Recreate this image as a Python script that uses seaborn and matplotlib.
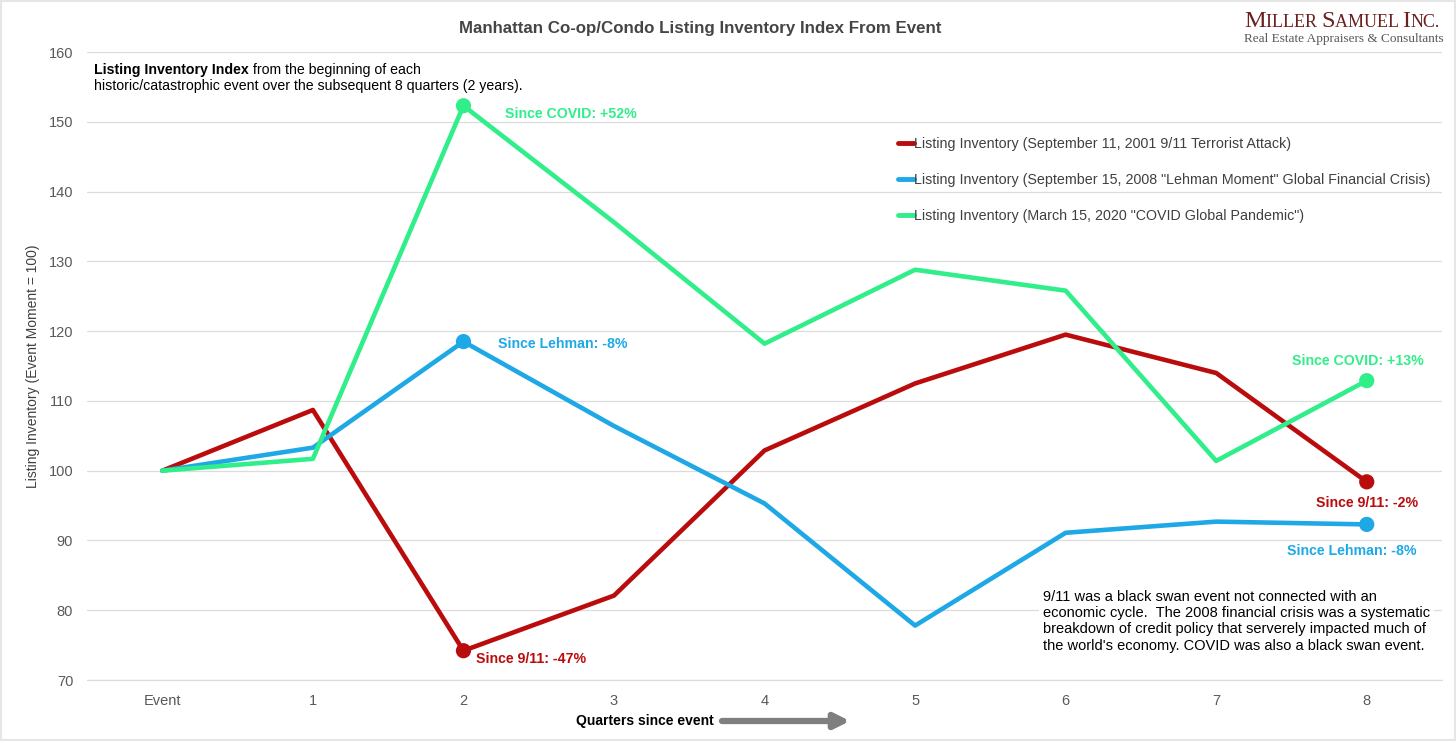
"""Manhattan co-op/condo listing inventory index after three shock events."""
import matplotlib

matplotlib.use("Agg")
import matplotlib.pyplot as plt
import pandas as pd
import seaborn as sns
from matplotlib.patches import Rectangle

# ---- data ----
quarters = ["Event", "1", "2", "3", "4", "5", "6", "7", "8"]
sept11 = [100, 108.7, 74.2, 82.1, 102.9, 112.5, 119.5, 114.0, 98.4]
lehman = [100, 103.3, 118.5, 106.4, 95.3, 77.8, 91.1, 92.7, 92.3]
covid = [100, 101.7, 152.3, 135.6, 118.2, 128.8, 125.8, 101.4, 112.9]

series_names = [
    "Listing Inventory (September 11, 2001 9/11 Terrorist Attack)",
    'Listing Inventory (September 15, 2008 "Lehman Moment" Global Financial Crisis)',
    'Listing Inventory (March 15, 2020 "COVID Global Pandemic")',
]
colors = ["#BA0C0C", "#1FA8E6", "#30EE8A"]

RED, BLUE, GREEN = colors
GREY = "#595959"

rows = []
for name, vals in zip(series_names, [sept11, lehman, covid]):
    for i, v in enumerate(vals):
        rows.append({"q": i, "value": v, "series": name})
df = pd.DataFrame(rows)

sns.set_style("white")
plt.rcParams["font.family"] = ["Liberation Sans", "DejaVu Sans"]

W, H = 1456, 741
fig = plt.figure(figsize=(W / 100, H / 100), dpi=100)
ax = fig.add_axes([0.0598, 0.0823, 0.9306, 0.8475])

sns.lineplot(data=df, x="q", y="value", hue="series", palette=colors,
             linewidth=3.3, ax=ax, sort=False)

# end-point markers (quarter 2 and quarter 8)
for vals, c in zip([sept11, lehman, covid], colors):
    ax.scatter([2, 8], [vals[2], vals[8]], s=120, color=c, zorder=5,
               edgecolor="none")

ax.set_xlim(-0.5, 8.5)
ax.set_ylim(70, 160)
ax.set_yticks(range(70, 161, 10))
ax.set_xticks(range(len(quarters)))
ax.set_xticklabels(quarters)
ax.tick_params(axis="both", colors=GREY, labelsize=10.5, length=0, pad=10)
ax.grid(axis="y", color="#dcdcdc", linewidth=0.9)
ax.axhline(70, color="#dcdcdc", linewidth=0.9, clip_on=False, zorder=0)
for s in ax.spines.values():
    s.set_visible(False)
ax.set_xlabel("")
ax.set_ylabel("Listing Inventory (Event Moment = 100)", fontsize=10,
              color="#404040")
ax.yaxis.set_label_coords(-47 / 1355, 0.5)

leg = ax.legend(loc="upper left", bbox_to_anchor=(0.589, 0.885), frameon=False,
                fontsize=10.25, handlelength=1.1, handletextpad=0.0,
                labelspacing=1.55, labelcolor="#404040")
for line in leg.get_lines():
    line.set_linewidth(3.5)

# point annotations
bold = dict(fontsize=10.2, fontweight="bold")
ax.annotate("Since COVID: +52%", (2, covid[2]), xytext=(30, -6),
            textcoords="offset points", color=GREEN, va="center", **bold)
ax.annotate("Since Lehman: -8%", (2, lehman[2]), xytext=(25, -2),
            textcoords="offset points", color=BLUE, va="center", **bold)
ax.annotate("Since 9/11: -47%", (2, sept11[2]), xytext=(9, -6),
            textcoords="offset points", color=RED, va="center", **bold)
ax.annotate("Since COVID: +13%", (8, covid[8]), xytext=(41, 14),
            textcoords="offset points", color=GREEN, va="center", ha="right", **bold)
ax.annotate("Since 9/11: -2%", (8, sept11[8]), xytext=(37, -15),
            textcoords="offset points", color=RED, va="center", ha="right", **bold)
ax.annotate("Since Lehman: -8%", (8, lehman[8]), xytext=(36, -19),
            textcoords="offset points", color=BLUE, va="center", ha="right", **bold)

# top-left note with bold lead-in
t1 = fig.text(94 / W, 1 - 70 / H, "Listing Inventory Index", fontsize=10.2,
              fontweight="bold", va="center", color="black")
ax.annotate(" from the beginning of each", xy=(1, 0), xycoords=t1,
            va="bottom", fontsize=10.2, color="black")
fig.text(94 / W, 1 - 86 / H,
         "historic/catastrophic event over the subsequent 8 quarters (2 years).",
         fontsize=10.2, va="center", color="black")

# bottom-right commentary (white box hides the gridline behind it)
fig.text(1043 / W, 1 - 590 / H,
         "9/11 was a black swan event not connected with an\n"
         "economic cycle.  The 2008 financial crisis was a systematic\n"
         "breakdown of credit policy that serverely impacted much of\n"
         "the world's economy. COVID was also a black swan event.",
         fontsize=10.5, va="top", linespacing=1.2, color="black",
         bbox=dict(facecolor="white", edgecolor="none", pad=3))

# title and x label with arrow
fig.text(700 / W, 1 - 28 / H,
         "Manhattan Co-op/Condo Listing Inventory Index From Event",
         ha="center", va="center", fontsize=12.2, fontweight="bold",
         color="#454545")
fig.text(645 / W, 1 - 721 / H, "Quarters since event", ha="center",
         va="center", fontsize=10, fontweight="bold", color="black")
ax.annotate("", xy=(850 / W, 1 - 721 / H), xytext=(722 / W, 1 - 721 / H),
            xycoords="figure fraction", textcoords="figure fraction",
            arrowprops=dict(arrowstyle="-|>", color="#7f7f7f", lw=4.5,
                            mutation_scale=22, shrinkA=0, shrinkB=0))

# logo in small caps: pieces share one baseline, placed left to right
logo = [("M", 17.5), ("ILLER ", 13), ("S", 17.5), ("AMUEL ", 13),
        ("I", 17.5), ("NC.", 13)]
renderer = fig.canvas.get_renderer()
x_px = 1244
for part, size in logo:
    t = fig.text(x_px / W, 1 - 27 / H, part, fontsize=size,
                 family="Liberation Serif", color="#6b1f1f", va="baseline")
    x_px = t.get_window_extent(renderer).x1
fig.text(1244 / W, 1 - 39 / H, "Real Estate Appraisers & Consultants",
         fontsize=9.5, family="Liberation Serif", color=GREY, va="center")

# light frame around the whole picture
fig.patches.append(Rectangle((0.001, 0.001), 0.998, 0.998, transform=fig.transFigure,
                             fill=False, edgecolor="#e6e6e6", linewidth=1.5))

fig.savefig("out.png", dpi=100)
